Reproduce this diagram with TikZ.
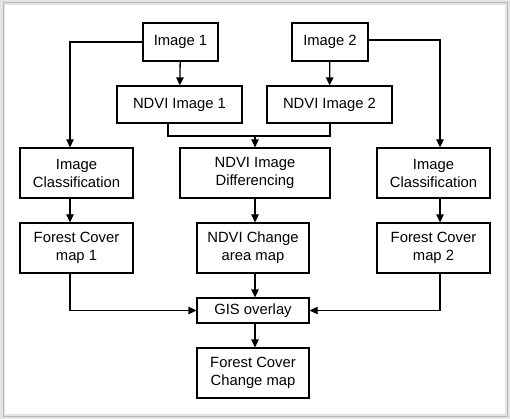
\documentclass[tikz,border=0pt]{standalone}
\usepackage{fontspec}
\setmainfont{Liberation Sans}
\usetikzlibrary{arrows.meta,calc}
\begin{document}
\begin{tikzpicture}[x=1pt,y=-1pt,
  box/.style={draw=black,line width=1.3pt,fill=white,inner sep=0pt,align=center,
    font=\fontsize{14.8}{18}\selectfont},
  conn/.style={draw=black,line width=1.3pt},
  arr/.style={conn,-{Triangle[length=8pt,width=7.5pt]}}]
\useasboundingbox (0,0) rectangle (510,419);
\fill[gray!22] (0,0) rectangle (510,419);
\draw[gray!55,line width=1pt] (3,3) rectangle (507,416);
\fill[white] (5,5) rectangle (505,414);
% nodes
\node[box,minimum width=75pt,minimum height=38pt] (img1) at (180.5,42) {Image 1};
\node[box,minimum width=76pt,minimum height=38pt] (img2) at (330,42) {Image 2};
\node[box,minimum width=125pt,minimum height=37pt] (ndvi1) at (179.5,104.5) {NDVI Image 1};
\node[box,minimum width=125pt,minimum height=37pt] (ndvi2) at (329.5,104.5) {NDVI Image 2};
\node[box,minimum width=113pt,minimum height=50pt] (cls1) at (76.5,173) {Image\\Classification};
\node[box,minimum width=150pt,minimum height=50pt] (diff) at (255,173) {NDVI Image\\Differencing};
\node[box,minimum width=113pt,minimum height=50pt] (cls2) at (433.5,173) {Image\\Classification};
\node[box,minimum width=113pt,minimum height=50pt] (fc1) at (76.5,248) {Forest Cover\\map 1};
\node[box,minimum width=112pt,minimum height=50pt] (chg) at (253,248) {NDVI Change\\area map};
\node[box,minimum width=113pt,minimum height=50pt] (fc2) at (433.5,248) {Forest Cover\\map 2};
\node[box,minimum width=112pt,minimum height=25pt] (gis) at (253,310.5) {GIS overlay};
\node[box,minimum width=112pt,minimum height=50pt] (fin) at (253,373) {Forest Cover\\Change map};
% helper coordinates
\coordinate (xl) at (70,0);
\coordinate (xr) at (440,0);
\coordinate (xc) at (255,0);
\coordinate (m1) at (168,136);
\coordinate (m2) at (330,136);
\coordinate (mc) at (255,136);
% connectors
\draw[arr] (img1) -- (ndvi1);
\draw[arr] (img2) -- (ndvi2);
\draw[arr] (img1.west) -- (img1.west -| xl) -- (cls1.north -| xl);
\draw[arr] ([yshift=2pt]img2.east) -- ([yshift=2pt]img2.east -| xr) -- (cls2.north -| xr);
\draw[conn] (ndvi1.south -| m1) -- (m1) -- (m2) -- (ndvi2.south -| m2);
\draw[arr] (mc) -- (diff.north -| mc);
\draw[arr] (cls1.south -| xl) -- (fc1.north -| xl);
\draw[arr] (diff.south -| xc) -- (chg.north -| xc);
\draw[arr] (cls2.south -| xr) -- (fc2.north -| xr);
\draw[arr] (fc1.south -| xl) -- (gis.west -| xl) -- (gis.west);
\draw[arr] (fc2.south -| xr) -- (gis.east -| xr) -- (gis.east);
\draw[arr] (chg.south -| xc) -- (gis.north -| xc);
\draw[arr] (gis.south -| xc) -- (fin.north -| xc);
\end{tikzpicture}
\end{document}
